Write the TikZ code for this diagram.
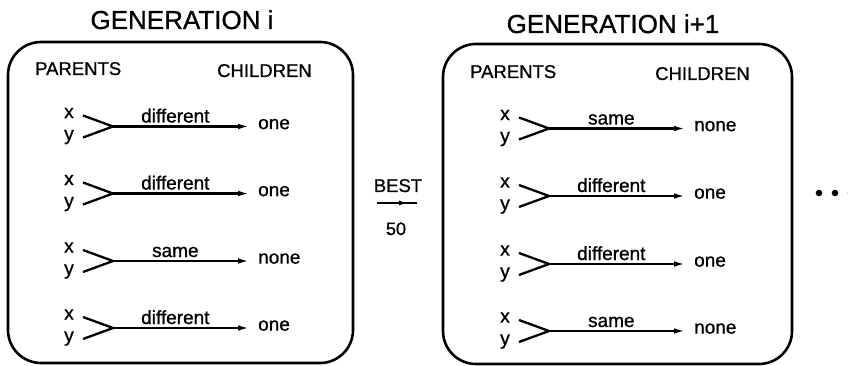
\documentclass[tikz,border=0pt]{standalone}
\usepackage{fontspec}
\setmainfont[FakeBold=0.9]{Liberation Sans}
\usetikzlibrary{arrows.meta,decorations.markings}

% one parent pair x,y joined into a child: #1 name, #2 x offset, #3 line height, #4 tag, #5 child
\newcommand{\pairrow}[5]{%
  \node[var] (#1x) at (69+#2, #3-11) {x};
  \node[var] (#1y) at (69+#2, #3+11) {y};
  \coordinate (#1a) at (83+#2, #3-11);
  \coordinate (#1b) at (83+#2, #3+11);
  \coordinate (#1j) at (113+#2, #3);
  \node[kid] (#1c) at (258+#2, #3) {#5};
  \draw[arm] (#1a) -- (#1j) -- (#1b);
  \draw[link] (#1j) -- node[tag, pos=0.43, yshift=4pt] (#1t) {#4} (#1c.mid west);
}

\begin{document}
\begin{tikzpicture}[x=1pt,y=-1pt,
  every node/.style={inner sep=0pt, text=black},
  title/.style={font=\fontsize{26}{28}\selectfont, anchor=base},
  head/.style={font=\fontsize{18.5}{20}\selectfont, anchor=base west},
  var/.style={font=\fontsize{19.5}{20}\selectfont, anchor=mid},
  kid/.style={font=\fontsize{19}{20}\selectfont, anchor=mid west},
  tag/.style={font=\fontsize{19}{20}\selectfont, anchor=base},
  panel/.style={draw, line width=2.6pt, rounded corners=33pt},
  arm/.style={line width=2.3pt, line join=miter},
  link/.style={line width=2.2pt, shorten >=8pt, -{Latex[length=12pt,width=5.5pt]}},
]
\useasboundingbox (0,0) rectangle (848,366);
\clip (0,0) rectangle (848,366);

% generation i
\node[title] (tL) at (182,29) {GENERATION i};
\draw[panel] (8,42) rectangle (353,363);
\node[head] (pL) at (35,75) {PARENTS};
\node[head] (cL) at (217,77) {CHILDREN};
\pairrow{L1}{0}{126.5}{different}{one}
\pairrow{L2}{0}{193.5}{different}{one}
\pairrow{L3}{0}{261}{same}{none}
\pairrow{L4}{0}{328}{different}{one}

% selection of the best 50
\node[font=\fontsize{18.5}{20}\selectfont, anchor=base] (best) at (398,192) {BEST};
\node[font=\fontsize{18}{20}\selectfont, anchor=base] (fifty) at (396,235) {50};
\coordinate (selA) at (377,203);
\coordinate (selB) at (417,203);
\draw[line width=2.2pt, decoration={markings, mark=at position 0.8 with {\arrow{Latex[length=10pt,width=5pt]}}}, postaction=decorate] (selA) -- (selB);

% generation i+1
\node[title] (tR) at (613,33) {GENERATION i+1};
\draw[panel] (443,44) rectangle (792,364);
\node[head] (pR) at (470,78) {PARENTS};
\node[head] (cR) at (655,80) {CHILDREN};
\pairrow{R1}{436}{128.5}{same}{none}
\pairrow{R2}{436}{196}{different}{one}
\pairrow{R3}{436}{264}{different}{one}
\pairrow{R4}{436}{331}{same}{none}

% continuation
\fill (819,193) circle (3.3pt);
\fill (835,193) circle (3.3pt);
\fill (851,193) circle (3.3pt);
\end{tikzpicture}
\end{document}
